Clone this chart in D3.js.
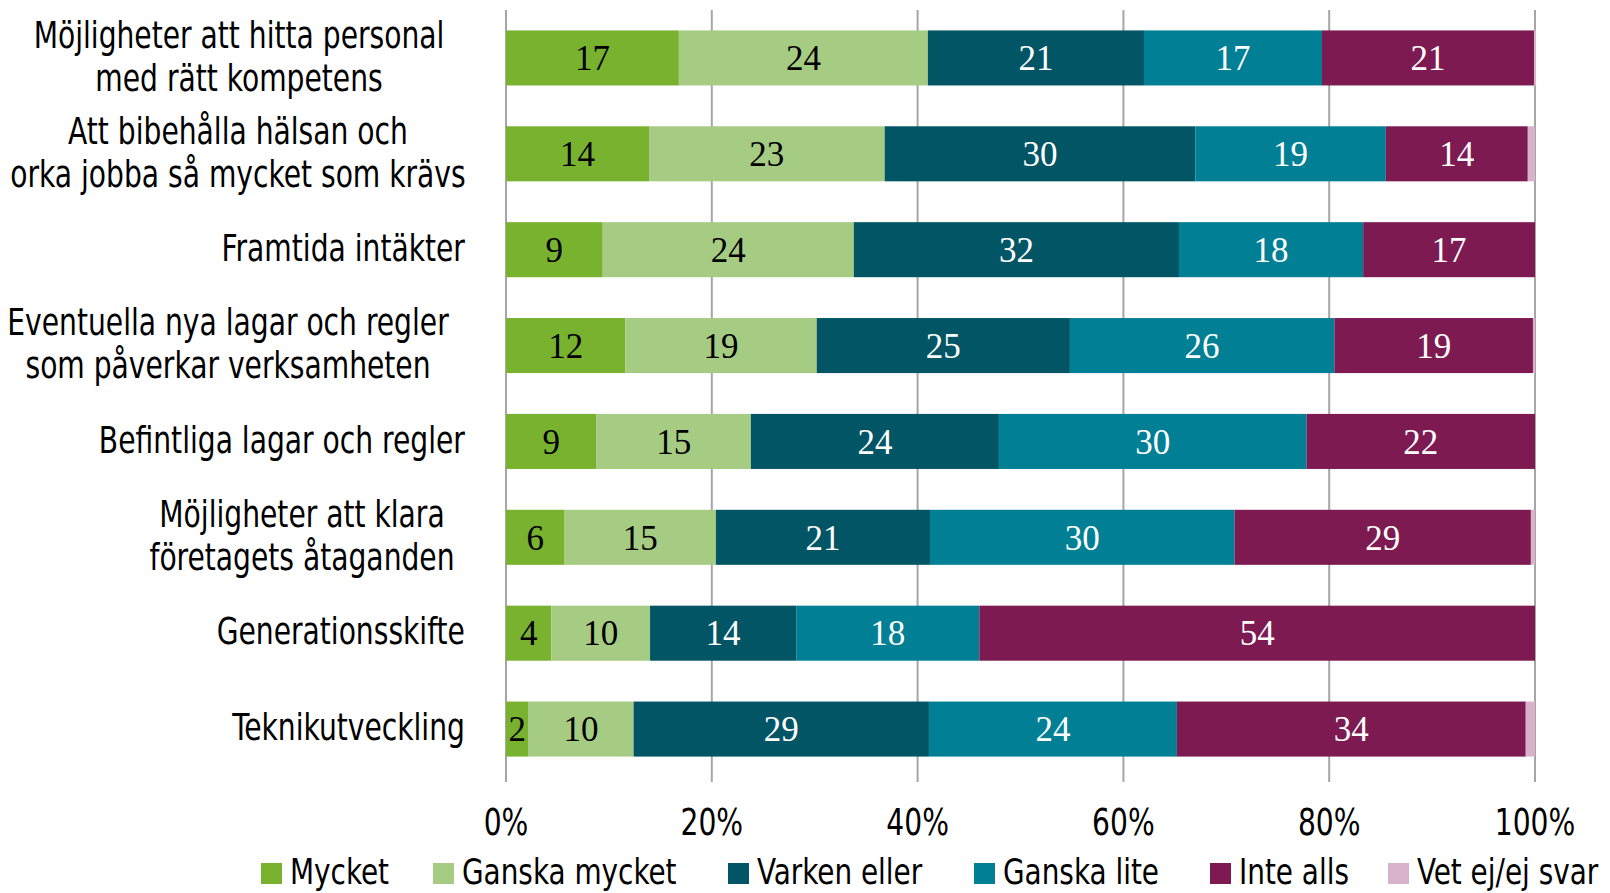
<!DOCTYPE html>
<html>
<head>
<meta charset="utf-8">
<script src="https://cdn.jsdelivr.net/npm/d3@7"></script>
<style>
  body { margin: 0; background: #fff; }
  svg { display: block; }
  .lab { font-family: "Liberation Sans Narrow", "Arial Narrow", "DejaVu Sans", sans-serif; font-stretch: condensed; fill: #000; }
  .val { font-family: "Liberation Serif", "DejaVu Serif", serif; }
</style>
</head>
<body>
<div id="chart"></div>
<script>
// kategorier (uppifrån och ner)
var categories = [
  ["Möjligheter att hitta personal", "med rätt kompetens"],
  ["Att bibehålla hälsan och", "orka jobba så mycket som krävs"],
  ["Framtida intäkter"],
  ["Eventuella nya lagar och regler", "som påverkar verksamheten"],
  ["Befintliga lagar och regler"],
  ["Möjligheter att klara", "företagets åtaganden"],
  ["Generationsskifte"],
  ["Teknikutveckling"]
];

var seriesNames = ["Mycket", "Ganska mycket", "Varken eller", "Ganska lite", "Inte alls", "Vet ej/ej svar"];
var seriesColors = ["#78b22f", "#a6cb82", "#015565", "#017f95", "#7c1a51", "#d8b2cb"];
var labelColors = ["#000", "#000", "#fff", "#fff", "#fff", null];

// procent per serie, en siffra per kategori
var mycket       = [16.8, 13.9,  9.4, 11.6,  8.8,  5.7,  4.4,  2.2];
var ganskaMycket = [24.2, 22.9, 24.4, 18.6, 15.0, 14.7,  9.6, 10.2];
var varkenEller  = [21.0, 30.2, 31.6, 24.6, 24.1, 20.8, 14.2, 28.7];
var ganskaLite   = [17.3, 18.5, 17.9, 25.7, 29.9, 29.6, 17.8, 24.1];
var inteAlls     = [20.6, 13.8, 16.7, 19.3, 22.2, 28.8, 54.0, 33.9];
var vetEj        = [ 0.2,  0.7,  0.0,  0.2,  0.0,  0.4,  0.0,  0.9];

var ticks = [0, 20, 40, 60, 80, 100];

var series = [mycket, ganskaMycket, varkenEller, ganskaLite, inteAlls, vetEj];

var W = 1610, H = 893;

var svg = d3.select("#chart").append("svg")
    .attr("width", W)
    .attr("height", H);

var x = d3.scaleLinear().domain([0, 100]).range([506, 1535]);
var y = d3.scaleBand()
    .domain(d3.range(categories.length))
    .range([10, 777])
    .paddingInner(0.426)
    .paddingOuter(0.213);

// stödlinjer bakom staplarna
svg.append("g").selectAll("line")
    .data(ticks)
    .enter().append("line")
    .attr("x1", function (d) { return x(d); })
    .attr("x2", function (d) { return x(d); })
    .attr("y1", 10)
    .attr("y2", 782)
    .attr("stroke", "#a6a6a6")
    .attr("stroke-width", 2);

// staplade segment
var segs = [];
categories.forEach(function (c, i) {
  var acc = 0;
  series.forEach(function (s, k) {
    segs.push({row: i, k: k, x0: acc, x1: acc + s[i], v: s[i]});
    acc += s[i];
  });
});

svg.append("g").selectAll("rect")
    .data(segs.filter(function (d) { return d.v > 0; }))
    .enter().append("rect")
    .attr("x", function (d) { return x(d.x0); })
    .attr("width", function (d) { return x(d.x1) - x(d.x0); })
    .attr("y", function (d) { return y(d.row); })
    .attr("height", y.bandwidth())
    .attr("fill", function (d) { return seriesColors[d.k]; });

svg.append("g").selectAll("text")
    .data(segs.filter(function (d) { return labelColors[d.k] && d.v > 0; }))
    .enter().append("text")
    .attr("class", "val")
    .attr("x", function (d) { return (x(d.x0) + x(d.x1)) / 2; })
    .attr("y", function (d) { return y(d.row) + y.bandwidth() / 2; })
    .attr("dy", "0.35em")
    .attr("text-anchor", "middle")
    .attr("font-size", 35)
    .attr("fill", function (d) { return labelColors[d.k]; })
    .text(function (d) { return Math.round(d.v); });

// horisontell komprimering av etikettfonten
var probe = svg.append("text").attr("class", "lab").attr("font-size", 38).text(categories[0][0]);
var sx = 411 / probe.node().getComputedTextLength();
probe.remove();

// mittpunkt för radbrutna etiketter (Excel centrerar dem i sin textruta)
var wrapCenter = [239, 238, null, 228, null, 302, null, null];

// kategorietiketter
var catG = svg.append("g");
categories.forEach(function (lines, i) {
  var g = catG.append("g");
  var t = g.append("text").attr("class", "lab").attr("font-size", 38).attr("text-anchor", "middle");
  var lh = 43;
  var cy = y(i) + y.bandwidth() / 2 - 2;
  lines.forEach(function (l, j) {
    t.append("tspan")
      .attr("x", 0)
      .attr("y", cy + (j - (lines.length - 1) / 2) * lh)
      .attr("dy", "0.35em")
      .text(l);
  });
  var wmax = d3.max(t.selectAll("tspan").nodes(), function (n) { return n.getComputedTextLength(); });
  var cx = wrapCenter[i] != null ? wrapCenter[i] : 465 - wmax * sx / 2;
  g.attr("transform", "translate(" + cx + ",0) scale(" + sx + ",1)");
});

// x-axel
svg.append("g").selectAll("text")
    .data(ticks)
    .enter().append("text")
    .attr("class", "lab")
    .attr("font-size", 38)
    .attr("text-anchor", "middle")
    .attr("transform", function (d) { return "translate(" + x(d) + ",822) scale(" + sx + ",1)"; })
    .attr("dy", "0.35em")
    .text(function (d) { return d + "%"; });

// legend
var legX = [261, 433, 728, 974, 1210, 1388];
var leg = svg.append("g").selectAll("g")
    .data(seriesNames)
    .enter().append("g")
    .attr("transform", function (d, i) { return "translate(" + legX[i] + ",863)"; });
leg.append("rect")
    .attr("width", 21).attr("height", 21)
    .attr("fill", function (d, i) { return seriesColors[i]; });
leg.append("text")
    .attr("class", "lab")
    .attr("font-size", 36)
    .attr("transform", "translate(29,8) scale(" + (sx * 1.045) + ",1)")
    .attr("dy", "0.35em")
    .text(function (d) { return d; });
</script>
</body>
</html>
